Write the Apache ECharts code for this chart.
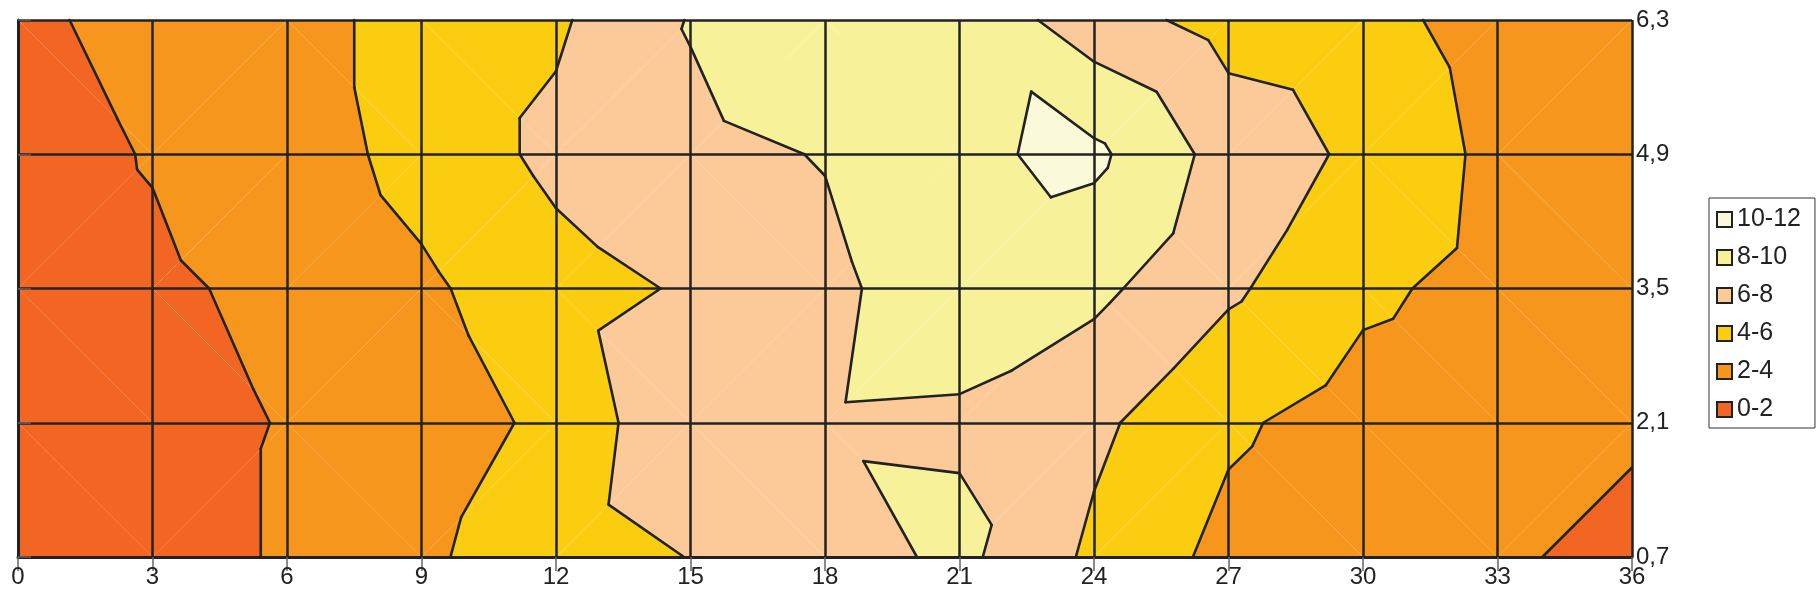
<!DOCTYPE html>
<html>
<head>
<meta charset="utf-8">
<script src="https://cdn.jsdelivr.net/npm/echarts@6/dist/echarts.min.js"></script>
<style>
  html, body { margin: 0; padding: 0; background: #ffffff; }
  #chart { width: 1818px; height: 610px; }
</style>
</head>
<body>
<div id="chart"></div>
<script>
// Profile positions along the horizontal axis
const xPositions = [0, 3, 6, 9, 12, 15, 18, 21, 24, 27, 30, 33, 36];
// Depth rows, bottom to top
const depthLabels = ['0,7', '2,1', '3,5', '4,9', '6,3'];

// Measured values per depth row, one entry per x position
const row07 = [0.9, 1.67, 2.08, 3.72, 5.02, 6.05, 6.92, 8.5, 5.61, 3.42, 2.55, 2.5, 1.0];
const row21 = [1.0, 1.45, 2.08, 2.5, 4.67, 7.53, 7.80, 7.70, 6.41, 4.31, 3.11, 2.62, 2.5];
const row35 = [1.38, 1.76, 2.33, 3.64, 5.3, 6.20, 7.58, 9.11, 8.47, 6.31, 4.40, 3.31, 3.0];
const row49 = [1.46, 2.08, 2.9, 4.73, 6.47, 7.56, 8.08, 9.68, 10.42, 7.19, 5.60, 3.5, 3.1];
const row63 = [1.77, 2.37, 3.27, 4.73, 5.71, 8.11, 9.33, 9.52, 6.91, 5.22, 4.71, 3.12, 3.0];

// Contour bands
const bandNames = ['0-2', '2-4', '4-6', '6-8', '8-10', '10-12'];
const bandBreaks = [0, 2, 4, 6, 8, 10, 12];
const bandColors = ['#f26522', '#f7961d', '#fbcd10', '#fcca98', '#f7f299', '#fbfad8'];

const FONT = '"Liberation Sans", Arial, Helvetica, sans-serif';
const INK = '#222222';

// Split every grid cell into two triangles, choosing the diagonal that joins
// the pair of opposite corners with the larger sum.
const rows = [row07, row21, row35, row49, row63];
const triangles = [];
for (let r = 0; r < rows.length - 1; r++) {
  for (let c = 0; c < xPositions.length - 1; c++) {
    const P = (cc, rr) => [xPositions[cc], rr, rows[rr][cc]];
    const bl = P(c, r), br = P(c + 1, r), tl = P(c, r + 1), tr = P(c + 1, r + 1);
    if (bl[2] + tr[2] >= tl[2] + br[2]) {
      triangles.push([bl, br, tr], [bl, tr, tl]);
    } else {
      triangles.push([tl, bl, br], [tl, br, tr]);
    }
  }
}
const triData = triangles.map(t => [
  (t[0][0] + t[1][0] + t[2][0]) / 3,
  (t[0][1] + t[1][1] + t[2][1]) / 3
]);

// Keep the part of a polygon on one side of a level (linear interpolation on z)
function clipLevel(poly, level, keepAbove) {
  const out = [];
  for (let i = 0; i < poly.length; i++) {
    const a = poly[i], b = poly[(i + 1) % poly.length];
    const ina = keepAbove ? a[2] >= level : a[2] <= level;
    const inb = keepAbove ? b[2] >= level : b[2] <= level;
    if (ina) out.push(a);
    if (ina !== inb) {
      const t = (level - a[2]) / (b[2] - a[2]);
      out.push([a[0] + t * (b[0] - a[0]), a[1] + t * (b[1] - a[1]), level]);
    }
  }
  return out;
}

// Straight iso-line piece of one triangle at a level
function isoSegment(tri, level) {
  const pts = [];
  for (let i = 0; i < 3; i++) {
    const a = tri[i], b = tri[(i + 1) % 3];
    if ((a[2] < level) !== (b[2] < level)) {
      const t = (level - a[2]) / (b[2] - a[2]);
      pts.push([a[0] + t * (b[0] - a[0]), a[1] + t * (b[1] - a[1])]);
    }
  }
  return pts.length === 2 ? pts : null;
}

const bandSeries = bandNames.map((name, i) => ({
  name: name,
  type: 'custom',
  coordinateSystem: 'cartesian2d',
  silent: true,
  animation: false,
  z: 2,
  itemStyle: { color: bandColors[i] },
  encode: { x: 0, y: 1 },
  data: triData,
  renderItem: function (params, api) {
    let poly = triangles[params.dataIndex];
    if (i > 0) poly = clipLevel(poly, bandBreaks[i], true);
    if (poly.length >= 3 && i < bandNames.length - 1) poly = clipLevel(poly, bandBreaks[i + 1], false);
    if (poly.length < 3) return null;
    return {
      type: 'polygon',
      shape: { points: poly.map(p => api.coord([p[0], p[1]])) },
      style: { fill: bandColors[i], stroke: null }
    };
  }
}));

const contourSeries = {
  name: 'contours',
  type: 'custom',
  coordinateSystem: 'cartesian2d',
  silent: true,
  animation: false,
  z: 3,
  encode: { x: 0, y: 1 },
  data: triData,
  renderItem: function (params, api) {
    const tri = triangles[params.dataIndex];
    const children = [];
    for (let k = 1; k < bandBreaks.length - 1; k++) {
      const seg = isoSegment(tri, bandBreaks[k]);
      if (!seg) continue;
      const a = api.coord(seg[0]), b = api.coord(seg[1]);
      children.push({
        type: 'line',
        shape: { x1: a[0], y1: a[1], x2: b[0], y2: b[1] },
        style: { stroke: INK, lineWidth: 2.6, lineCap: 'round' }
      });
    }
    return { type: 'group', children: children };
  }
};

const chart = echarts.init(document.getElementById('chart'), null, { renderer: 'canvas' });
chart.setOption({
  animation: false,
  backgroundColor: '#ffffff',
  grid: { left: 18, top: 20, width: 1614, height: 537, containLabel: false },
  xAxis: {
    type: 'value', min: 0, max: 36, interval: 3, z: 10,
    axisLine: { show: true, lineStyle: { color: INK, width: 3 } },
    axisTick: { show: true, length: 14, lineStyle: { color: '#666666', width: 1.5 } },
    axisLabel: { fontSize: 24, color: INK, margin: 8, fontFamily: FONT },
    splitLine: { show: true, lineStyle: { color: INK, width: 2.5 } }
  },
  yAxis: {
    type: 'value', position: 'right', min: 0, max: 4, interval: 1, z: 10,
    axisLine: { show: true, lineStyle: { color: INK, width: 3 } },
    axisTick: { show: true, length: 13, lineStyle: { color: '#666666', width: 1.5 } },
    axisLabel: {
      fontSize: 24, color: INK, margin: 4, fontFamily: FONT,
      formatter: v => depthLabels[Math.round(v)]
    },
    splitLine: { show: true, lineStyle: { color: INK, width: 2.5 } }
  },
  legend: {
    orient: 'vertical',
    left: 1709, top: 198,
    data: bandNames.slice().reverse(),
    icon: 'rect',
    itemWidth: 15, itemHeight: 15, itemGap: 13,
    padding: [9, 14, 6, 7],
    borderColor: '#333333', borderWidth: 1,
    selectedMode: false,
    itemStyle: { borderColor: INK, borderWidth: 2 },
    textStyle: { fontSize: 25, color: INK, fontFamily: FONT }
  },
  series: bandSeries.concat([contourSeries])
});
</script>
</body>
</html>
